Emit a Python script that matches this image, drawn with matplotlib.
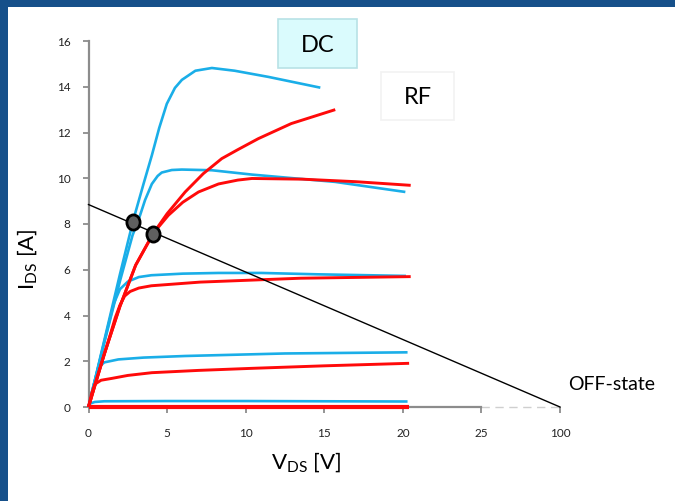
import numpy as np
import matplotlib
matplotlib.use("Agg")
import matplotlib.pyplot as plt
from matplotlib.patches import Rectangle
from matplotlib.markers import MarkerStyle
from matplotlib.transforms import Affine2D

plt.rcParams['font.family'] = ['Lato', 'DejaVu Sans']

# DC output curves (blue), V_DS in axis units, I_DS in A
dc1_x = [0, 1.0, 2.0, 2.86, 3.5, 4.03, 4.5, 4.98, 5.5, 5.94, 6.8, 7.85, 9.3, 11.45, 14.75]
dc1_y = [0, 2.9, 5.8, 8.2, 9.75, 11.0, 12.2, 13.25, 13.95, 14.3, 14.7, 14.82, 14.7, 14.43, 13.96]
dc2_x = [0, 1.0, 2.0, 2.8, 3.28, 3.6, 4.03, 4.4, 4.66, 5.3, 5.94, 7.85, 10.4, 15.7, 20.16]
dc2_y = [0, 2.8, 5.5, 7.5, 8.38, 9.05, 9.75, 10.1, 10.25, 10.36, 10.38, 10.35, 10.16, 9.84, 9.4]
dc3_x = [0, 1.2, 1.6, 2.0, 2.5, 3.2, 4.0, 6.0, 8.27, 11.0, 14.6, 20.2]
dc3_y = [0, 3.4, 4.5, 5.15, 5.48, 5.68, 5.76, 5.83, 5.86, 5.86, 5.8, 5.73]
dc4_x = [0, 0.3, 0.63, 1.0, 1.9, 3.5, 6.15, 12.5, 20.3]
dc4_y = [0, 0.9, 1.72, 1.95, 2.08, 2.16, 2.23, 2.34, 2.39]
dc5_x = [0, 0.1, 0.4, 1.0, 5.0, 10.0, 15.0, 20.3]
dc5_y = [0, 0.15, 0.22, 0.25, 0.26, 0.26, 0.25, 0.24]

# RF (pulsed) output curves (red)
rf1_x = [0, 1.0, 2.0, 3.0, 4.13, 5.0, 6.15, 7.3, 8.48, 9.5, 10.8, 12.9, 15.7]
rf1_y = [0, 2.3, 4.4, 6.2, 7.6, 8.45, 9.4, 10.2, 10.86, 11.25, 11.73, 12.39, 13.0]
rf2_x = [0, 1.0, 2.0, 3.0, 4.13, 5.08, 6.0, 7.0, 8.27, 9.5, 10.4, 13.6, 17.0, 20.5]
rf2_y = [0, 2.3, 4.4, 6.2, 7.6, 8.38, 8.95, 9.4, 9.75, 9.92, 9.99, 9.96, 9.85, 9.69]
rf3_x = [0, 0.5, 1.0, 1.4, 1.7, 2.0, 2.3, 2.65, 3.2, 4.0, 7.1, 13.5, 20.5]
rf3_y = [0, 1.2, 2.3, 3.2, 3.9, 4.45, 4.85, 5.05, 5.2, 5.3, 5.46, 5.63, 5.7]
rf4_x = [0, 0.2, 0.41, 0.8, 1.48, 2.5, 4.03, 7.0, 10.4, 15.0, 20.4]
rf4_y = [0, 0.6, 1.0, 1.17, 1.25, 1.38, 1.5, 1.6, 1.69, 1.8, 1.91]
rf5_x = [0, 5, 10, 15, 20.4]
rf5_y = [0, 0, 0, 0, 0]

# load line and operating points
load_x = [0, 30]
load_y = [8.85, 0]
q_dc = (2.81, 8.07)
q_rf = (4.13, 7.58)

xticks = [0, 5, 10, 15, 20, 25, 30]
xtick_labels = ['0', '5', '10', '15', '20', '25', '100']
yticks = [0, 2, 4, 6, 8, 10, 12, 14, 16]

W, H = 675, 501
fig = plt.figure(figsize=(W / 100, H / 100), dpi=100)
fig.patch.set_facecolor('#16508a')
fig.patches.append(Rectangle((8 / W, 0), 1, 1 - 7 / H, transform=fig.transFigure,
                             facecolor='white', edgecolor='none', zorder=-5))

ax = fig.add_axes([88.5 / W, (H - 407) / H, (560 - 88.5) / W, (407 - 41) / H])
ax.set_facecolor('none')

blue = '#1AAEE8'
red = '#FF0A0A'
for xs, ys in [(dc1_x, dc1_y), (dc2_x, dc2_y), (dc3_x, dc3_y), (dc4_x, dc4_y), (dc5_x, dc5_y)]:
    ax.plot(xs, ys, color=blue, lw=1.9, solid_capstyle='butt', solid_joinstyle='round',
            clip_on=False, zorder=3)
for xs, ys in [(rf1_x, rf1_y), (rf2_x, rf2_y), (rf3_x, rf3_y), (rf4_x, rf4_y)]:
    ax.plot(xs, ys, color=red, lw=2.1, solid_capstyle='butt', solid_joinstyle='round',
            clip_on=False, zorder=4)
ax.plot(rf5_x, rf5_y, color=red, lw=3.0, solid_capstyle='butt', clip_on=False, zorder=4)

ax.plot(load_x, load_y, color='black', lw=1.0, clip_on=False, zorder=5)
mk = MarkerStyle('o', transform=Affine2D().scale(1.0, 1.15))
for q in (q_dc, q_rf):
    ax.plot([q[0]], [q[1]], marker=mk, ms=9.5, mfc='#5f5f5f', mec='black', mew=2.0,
            ls='none', zorder=6)

ax.set_xlim(0, 30)
ax.set_ylim(0, 16)
ax.set_xticks(xticks)
ax.set_xticklabels(xtick_labels)
ax.set_yticks(yticks)
for s in ['top', 'right']:
    ax.spines[s].set_visible(False)
for s in ['left', 'bottom']:
    ax.spines[s].set_color('#8c8c8c')
    ax.spines[s].set_linewidth(1.6)
ax.spines['bottom'].set_bounds(0, 25)
ax.plot([25, 30], [0, 0], color='#cfcfcf', lw=1.0, ls=(0, (6, 4)), clip_on=False, zorder=1)
ax.tick_params(axis='both', direction='out', length=4, width=1.3, color='#8c8c8c',
               labelsize=8.5, labelcolor='#222222')
ax.tick_params(axis='x', pad=11)
ax.tick_params(axis='y', pad=9)

fig.text(306 / W, 1 - 463 / H, r'V$_{\mathregular{DS}}$ [V]', fontsize=16, ha='center', va='center')
fig.text(28 / W, 1 - 259 / H, r'I$_{\mathregular{DS}}$ [A]', fontsize=16, ha='center', va='center',
         rotation=90)

fig.patches.append(Rectangle((278 / W, 1 - 68 / H), 79 / W, 49 / H, transform=fig.transFigure,
                             facecolor='#DAFBFD', edgecolor='#B8E2E6', lw=1.2, zorder=5))
fig.text(317.5 / W, 1 - 45 / H, 'DC', fontsize=17, ha='center', va='center', zorder=6)
fig.patches.append(Rectangle((381 / W, 1 - 120 / H), 73 / W, 48 / H, transform=fig.transFigure,
                             facecolor='white', edgecolor='#F2F2F2', lw=1.2, zorder=5))
fig.text(417.5 / W, 1 - 97 / H, 'RF', fontsize=17, ha='center', va='center', zorder=6)
fig.text(612 / W, 1 - 384 / H, 'OFF-state', fontsize=14, ha='center', va='center')

fig.savefig('out.png', dpi=100, facecolor=fig.get_facecolor())
